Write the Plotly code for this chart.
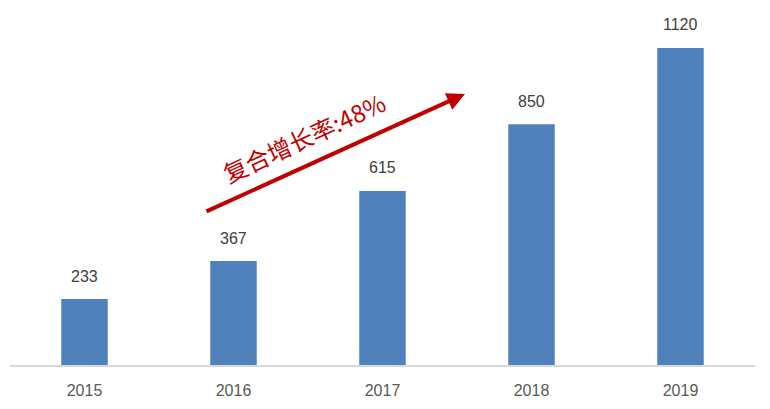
import plotly.graph_objects as go

years = ["2015", "2016", "2017", "2018", "2019"]
values = [233, 367, 615, 850, 1120]
growth_label = "复合增长率:48%"

BAR_COLOR = "#4f81bd"
RED = "#c00000"

fig = go.Figure()
fig.add_trace(go.Bar(
    x=years, y=values,
    marker=dict(color=BAR_COLOR, line=dict(width=0)),
    width=0.312,
    hoverinfo="skip",
))

# value labels above each bar (positioned by category index)
for i, v in enumerate(values):
    fig.add_annotation(
        x=i, y=v, xref="x", yref="y",
        text=str(v), showarrow=False, yshift=23,
        font=dict(family="Liberation Sans, Arial, sans-serif", size=16, color="#404040"),
    )

# growth arrow
fig.add_annotation(
    x=0.6107, y=0.7634, xref="paper", yref="paper",
    ax=-260, ay=118, axref="pixel", ayref="pixel",
    text="", showarrow=True,
    arrowhead=2, arrowsize=0.9, arrowwidth=4, arrowcolor=RED,
)
fig.add_annotation(
    x=0.3933, y=0.642, xref="paper", yref="paper",
    text=growth_label, showarrow=False, textangle=-25,
    font=dict(family="Noto Sans CJK SC, sans-serif", size=24, color=RED),
)

fig.update_layout(
    width=770, height=409,
    margin=dict(l=10, r=15, t=10, b=44),
    paper_bgcolor="white", plot_bgcolor="white",
    showlegend=False,
    xaxis=dict(
        type="category", range=[-0.5, 4.5], showgrid=False, zeroline=False,
        showline=True, linecolor="#d9d9d9", linewidth=2,
        ticks="outside", ticklen=10, tickcolor="rgba(0,0,0,0)",
        tickfont=dict(family="Liberation Sans, Arial, sans-serif", size=16, color="#595959"),
    ),
    yaxis=dict(
        range=[0, 1254], visible=False, showgrid=False, zeroline=False,
    ),
)

fig.write_html("out.html")
